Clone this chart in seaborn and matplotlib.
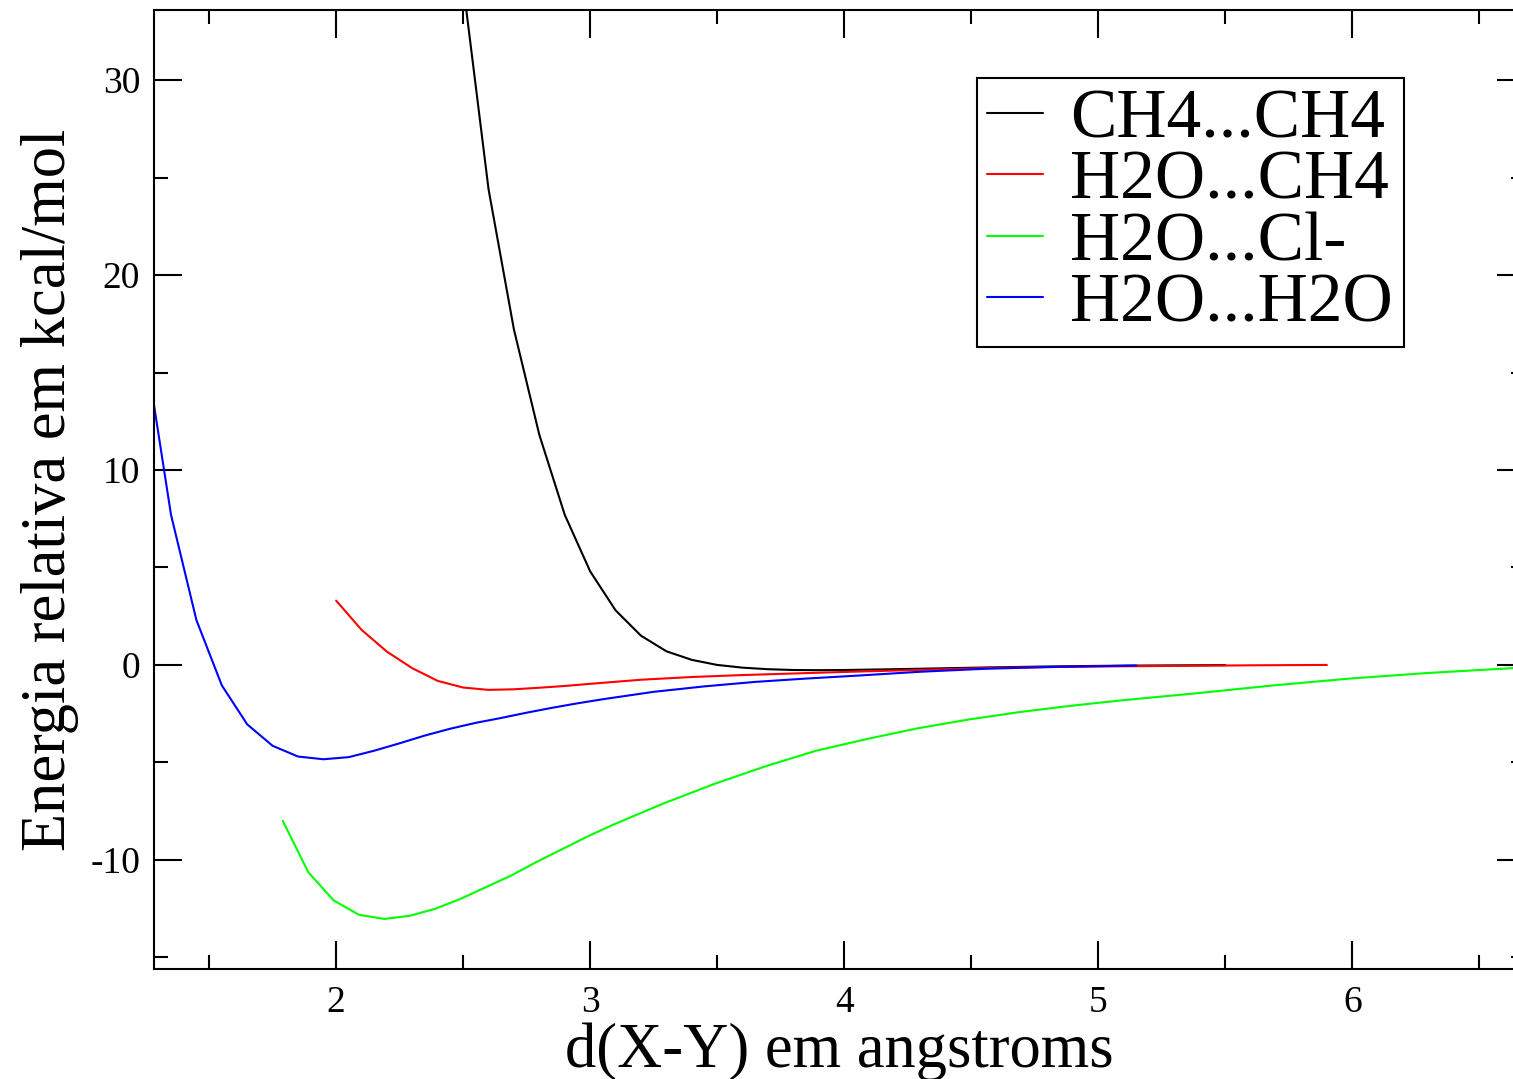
import numpy as np
import pandas as pd
import matplotlib
matplotlib.use("Agg")
import matplotlib.pyplot as plt
from matplotlib.ticker import MultipleLocator
import seaborn as sns

# CH4...CH4
ch4_ch4_x = [2.5, 2.6, 2.7, 2.8, 2.9, 3.0, 3.1, 3.2, 3.3, 3.4, 3.5, 3.6, 3.7, 3.8,
             3.9, 4.0, 4.2, 4.4, 4.6, 4.8, 5.0, 5.2, 5.5]
ch4_ch4_y = [34.9, 24.4, 17.2, 11.8, 7.7, 4.8, 2.8, 1.5, 0.7, 0.26, 0.0, -0.14, -0.22, -0.26,
             -0.27, -0.26, -0.22, -0.17, -0.12, -0.08, -0.05, -0.03, -0.01]

# H2O...CH4
h2o_ch4_x = [2.0, 2.1, 2.2, 2.3, 2.4, 2.5, 2.6, 2.7, 2.8, 2.9, 3.0, 3.2, 3.4, 3.6,
             3.8, 4.0, 4.2, 4.4, 4.6, 4.8, 5.0, 5.3, 5.6, 5.9]
h2o_ch4_y = [3.3, 1.8, 0.68, -0.17, -0.82, -1.16, -1.28, -1.25, -1.17, -1.08, -0.97, -0.76, -0.62, -0.52,
             -0.44, -0.36, -0.29, -0.22, -0.15, -0.11, -0.08, -0.05, -0.02, 0.0]

# H2O...Cl-
h2o_cl_x = [1.79, 1.89, 1.99, 2.09, 2.19, 2.29, 2.39, 2.49, 2.59, 2.69, 2.79, 2.89, 2.99,
            3.09, 3.29, 3.49, 3.69, 3.89, 4.09, 4.29, 4.49, 4.69, 4.89, 5.09, 5.39,
            5.69, 5.99, 6.29, 6.69]
h2o_cl_y = [-8.0, -10.63, -12.08, -12.82, -13.03, -12.87, -12.51, -12.0, -11.4, -10.8, -10.1, -9.45, -8.8,
            -8.2, -7.1, -6.1, -5.2, -4.4, -3.8, -3.25, -2.8, -2.42, -2.1, -1.82, -1.45,
            -1.05, -0.7, -0.42, -0.12]

# H2O...H2O
h2o_h2o_x = [1.25, 1.35, 1.45, 1.55, 1.65, 1.75, 1.85, 1.95, 2.05, 2.15, 2.25, 2.35, 2.45,
             2.55, 2.65, 2.75, 2.85, 2.95, 3.05, 3.25, 3.45, 3.65, 3.85, 4.05, 4.3,
             4.55, 4.8, 5.15]
h2o_h2o_y = [16.1, 7.7, 2.3, -1.05, -3.05, -4.15, -4.70, -4.84, -4.73, -4.40, -4.02, -3.62, -3.27,
             -2.97, -2.72, -2.45, -2.20, -1.97, -1.76, -1.38, -1.10, -0.87, -0.70, -0.55, -0.35,
             -0.20, -0.11, -0.03]

labels = ["CH4...CH4", "H2O...CH4", "H2O...Cl-", "H2O...H2O"]
colors = ["black", "red", "#00ff00", "blue"]


def build_frame():
    parts = []
    for lab, xs, ys in zip(labels,
                           [ch4_ch4_x, h2o_ch4_x, h2o_cl_x, h2o_h2o_x],
                           [ch4_ch4_y, h2o_ch4_y, h2o_cl_y, h2o_h2o_y]):
        parts.append(pd.DataFrame({"d": xs, "E": ys, "sistema": lab}))
    return pd.concat(parts, ignore_index=True)


def main():
    sns.set_theme(style="ticks")
    plt.rcParams['font.family'] = ['Liberation Serif', 'DejaVu Serif']
    plt.rcParams['axes.unicode_minus'] = False
    plt.rcParams['text.color'] = 'black'
    plt.rcParams['axes.labelcolor'] = 'black'

    df = build_frame()
    fig = plt.figure(figsize=(15.13, 10.79), dpi=100)
    ax = fig.add_axes([154 / 1513, 110 / 1079, 1371 / 1513, 959 / 1079])

    sns.lineplot(data=df, x="d", y="E", hue="sistema", palette=colors,
                 estimator=None, sort=False, linewidth=1.5, ax=ax)

    ax.set_xlim(1.283, 6.68)
    ax.set_ylim(-15.6, 33.6)
    ax.xaxis.set_major_locator(MultipleLocator(1))
    ax.xaxis.set_minor_locator(MultipleLocator(0.5))
    ax.yaxis.set_major_locator(MultipleLocator(10))
    ax.yaxis.set_minor_locator(MultipleLocator(5))
    ax.tick_params(which="both", direction="in", top=True, right=True,
                   width=1.5, colors="black", labelsize=27)
    ax.tick_params(which="major", length=20)
    ax.tick_params(which="minor", length=10)
    ax.tick_params(axis="x", pad=12)
    ax.tick_params(axis="y", pad=10)
    for sp in ax.spines.values():
        sp.set_visible(True)
        sp.set_linewidth(1.5)
        sp.set_color("black")

    ax.set_xlabel("d(X-Y) em angstroms", fontsize=45, labelpad=2, color="black")
    ax.set_ylabel("Energia relativa em kcal/mol", fontsize=45, labelpad=8, color="black")

    leg = ax.legend(loc="upper left", bbox_to_anchor=(0.600, 0.929), borderaxespad=0,
                    fontsize=50, frameon=True, fancybox=False, framealpha=1,
                    edgecolor="black", labelspacing=-0.03, borderpad=0.15,
                    handlelength=0.8, handletextpad=0.4, title=None,
                    labelcolor="black")
    leg.get_frame().set_linewidth(1.5)
    for line in leg.get_lines():
        line.set_linewidth(1.5)

    fig.savefig("out.png", dpi=100)


if __name__ == '__main__':
    main()
